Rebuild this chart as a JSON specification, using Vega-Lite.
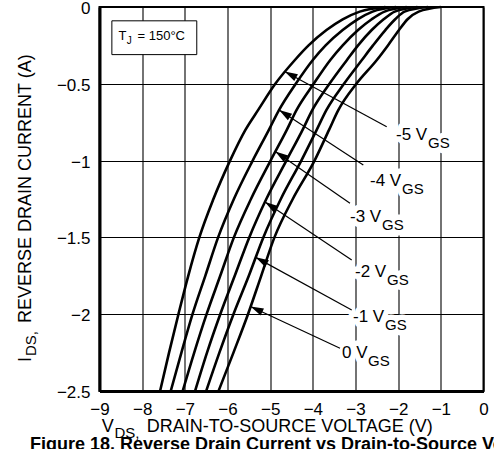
{
  "$schema": "https://vega.github.io/schema/vega-lite/v6.json",
  "width": 384,
  "height": 384,
  "autosize": {"type": "none"},
  "padding": {"left": 99.5, "top": 7, "right": 10.5, "bottom": 58},
  "background": "white",
  "config": {
    "font": "Liberation Sans",
    "view": {"stroke": "black", "strokeWidth": 2},
    "axis": {
      "grid": true, "gridColor": "black", "gridWidth": 1.1, "gridOpacity": 1,
      "domain": true, "domainColor": "black", "domainWidth": 3,
      "ticks": false, "tickSize": 0,
      "labelFont": "Liberation Sans", "labelFontSize": 17, "labelColor": "black",
      "labelFlush": false, "labelOverlap": false, "format": "~g"
    }
  },
  "datasets": {
    "curves": [
      {"g": "-5", "i": -2.5, "v": -7.58}, {"g": "-5", "i": -2.25, "v": -7.37}, {"g": "-5", "i": -2.0, "v": -7.15}, {"g": "-5", "i": -1.75, "v": -6.92},
      {"g": "-5", "i": -1.5, "v": -6.66}, {"g": "-5", "i": -1.25, "v": -6.33}, {"g": "-5", "i": -1.0, "v": -5.94}, {"g": "-5", "i": -0.8, "v": -5.58},
      {"g": "-5", "i": -0.67, "v": -5.28}, {"g": "-5", "i": -0.5, "v": -4.88}, {"g": "-5", "i": -0.345, "v": -4.42}, {"g": "-5", "i": -0.25, "v": -4.10},
      {"g": "-5", "i": -0.15, "v": -3.68}, {"g": "-5", "i": -0.08, "v": -3.30}, {"g": "-5", "i": -0.03, "v": -2.90}, {"g": "-5", "i": 0, "v": -2.30},

      {"g": "-4", "i": -2.5, "v": -7.33}, {"g": "-4", "i": -2.25, "v": -7.08}, {"g": "-4", "i": -2.0, "v": -6.82}, {"g": "-4", "i": -1.75, "v": -6.52},
      {"g": "-4", "i": -1.5, "v": -6.22}, {"g": "-4", "i": -1.25, "v": -5.85}, {"g": "-4", "i": -1.0, "v": -5.41}, {"g": "-4", "i": -0.8, "v": -5.03},
      {"g": "-4", "i": -0.67, "v": -4.79}, {"g": "-4", "i": -0.5, "v": -4.40}, {"g": "-4", "i": -0.345, "v": -4.00}, {"g": "-4", "i": -0.25, "v": -3.70},
      {"g": "-4", "i": -0.15, "v": -3.30}, {"g": "-4", "i": -0.08, "v": -2.95}, {"g": "-4", "i": -0.03, "v": -2.60}, {"g": "-4", "i": 0, "v": -2.05},

      {"g": "-3", "i": -2.5, "v": -7.05}, {"g": "-3", "i": -2.25, "v": -6.78}, {"g": "-3", "i": -2.0, "v": -6.49}, {"g": "-3", "i": -1.75, "v": -6.17},
      {"g": "-3", "i": -1.5, "v": -5.85}, {"g": "-3", "i": -1.25, "v": -5.45}, {"g": "-3", "i": -1.0, "v": -4.99}, {"g": "-3", "i": -0.8, "v": -4.61},
      {"g": "-3", "i": -0.67, "v": -4.38}, {"g": "-3", "i": -0.5, "v": -3.98}, {"g": "-3", "i": -0.345, "v": -3.59}, {"g": "-3", "i": -0.25, "v": -3.30},
      {"g": "-3", "i": -0.15, "v": -2.94}, {"g": "-3", "i": -0.08, "v": -2.62}, {"g": "-3", "i": -0.03, "v": -2.32}, {"g": "-3", "i": 0, "v": -1.80},

      {"g": "-2", "i": -2.5, "v": -6.76}, {"g": "-2", "i": -2.25, "v": -6.48}, {"g": "-2", "i": -2.0, "v": -6.17}, {"g": "-2", "i": -1.75, "v": -5.83},
      {"g": "-2", "i": -1.5, "v": -5.49}, {"g": "-2", "i": -1.25, "v": -5.09}, {"g": "-2", "i": -1.0, "v": -4.62}, {"g": "-2", "i": -0.8, "v": -4.24},
      {"g": "-2", "i": -0.67, "v": -4.01}, {"g": "-2", "i": -0.5, "v": -3.61}, {"g": "-2", "i": -0.345, "v": -3.20}, {"g": "-2", "i": -0.25, "v": -2.94},
      {"g": "-2", "i": -0.15, "v": -2.62}, {"g": "-2", "i": -0.08, "v": -2.34}, {"g": "-2", "i": -0.03, "v": -2.08}, {"g": "-2", "i": 0, "v": -1.55},

      {"g": "-1", "i": -2.5, "v": -6.50}, {"g": "-1", "i": -2.25, "v": -6.19}, {"g": "-1", "i": -2.0, "v": -5.86}, {"g": "-1", "i": -1.75, "v": -5.50},
      {"g": "-1", "i": -1.5, "v": -5.16}, {"g": "-1", "i": -1.25, "v": -4.75}, {"g": "-1", "i": -1.0, "v": -4.27}, {"g": "-1", "i": -0.8, "v": -3.91},
      {"g": "-1", "i": -0.67, "v": -3.68}, {"g": "-1", "i": -0.5, "v": -3.27}, {"g": "-1", "i": -0.345, "v": -2.85}, {"g": "-1", "i": -0.25, "v": -2.59},
      {"g": "-1", "i": -0.15, "v": -2.30}, {"g": "-1", "i": -0.08, "v": -2.07}, {"g": "-1", "i": -0.03, "v": -1.85}, {"g": "-1", "i": 0, "v": -1.30},

      {"g": "0", "i": -2.5, "v": -6.21}, {"g": "0", "i": -2.25, "v": -5.86}, {"g": "0", "i": -2.0, "v": -5.52}, {"g": "0", "i": -1.75, "v": -5.21},
      {"g": "0", "i": -1.5, "v": -4.90}, {"g": "0", "i": -1.25, "v": -4.47}, {"g": "0", "i": -1.0, "v": -3.96}, {"g": "0", "i": -0.8, "v": -3.62},
      {"g": "0", "i": -0.67, "v": -3.40}, {"g": "0", "i": -0.5, "v": -2.98}, {"g": "0", "i": -0.345, "v": -2.50}, {"g": "0", "i": -0.25, "v": -2.24},
      {"g": "0", "i": -0.15, "v": -1.98}, {"g": "0", "i": -0.08, "v": -1.78}, {"g": "0", "i": -0.03, "v": -1.52}, {"g": "0", "i": 0, "v": -1.00}
    ],
    "tags": [
      {"g": "-5", "t": "-5 V", "tx": -2.051, "ty": -0.866, "sx": -1.301, "sy": -0.918, "x0": -2.269, "y0": -0.779, "x1": -4.66, "y1": -0.42},
      {"g": "-4", "t": "-4 V", "tx": -2.660, "ty": -1.165, "sx": -1.910, "sy": -1.217, "x0": -2.817, "y0": -1.029, "x1": -4.79, "y1": -0.67},
      {"g": "-3", "t": "-3 V", "tx": -3.129, "ty": -1.400, "sx": -2.379, "sy": -1.452, "x0": -3.129, "y0": -1.278, "x1": -4.88, "y1": -0.94},
      {"g": "-2", "t": "-2 V", "tx": -3.012, "ty": -1.758, "sx": -2.262, "sy": -1.810, "x0": -3.089, "y0": -1.647, "x1": -5.12, "y1": -1.27},
      {"g": "-1", "t": "-1 V", "tx": -3.059, "ty": -2.051, "sx": -2.309, "sy": -2.103, "x0": -3.089, "y0": -1.973, "x1": -5.34, "y1": -1.63},
      {"g": "0", "t": "0 V", "tx": -3.317, "ty": -2.285, "sx": -2.707, "sy": -2.337, "x0": -3.363, "y0": -2.222, "x1": -5.46, "y1": -1.95}
    ],
    "box": [
      {"x": -8.71, "x2": -6.72, "y": -0.09, "y2": -0.31}
    ],
    "texts": [
      {"role": "tj", "t": "T", "x": -8.555, "y": -0.2116},
      {"role": "tj", "t": "= 150°C", "x": -8.109, "y": -0.2116},
      {"role": "tjsub", "t": "J", "x": -8.36, "y": -0.243},
      {"role": "xmain", "t": "V", "x": -8.948, "y": -2.770},
      {"role": "xmain", "t": "DRAIN-TO-SOURCE VOLTAGE (V)", "x": -7.894, "y": -2.770},
      {"role": "xsub", "t": "DS,", "x": -8.648, "y": -2.806},
      {"role": "ymain", "t": "I", "x": -10.605, "y": -2.311},
      {"role": "ymain", "t": "REVERSE DRAIN CURRENT (A)", "x": -10.605, "y": -2.057},
      {"role": "ysub", "t": "DS,", "x": -10.488, "y": -2.272},
      {"role": "fig", "t": "Figure 18. Reverse Drain Current vs Drain-to-Source Voltage", "x": -10.63, "y": -2.884}
    ]
  },
  "layer": [
    {
      "data": {"name": "curves"},
      "mark": {"type": "line", "color": "black", "strokeWidth": 2.6, "interpolate": "monotone"},
      "encoding": {
        "x": {"field": "v", "type": "quantitative", "scale": {"domain": [-9, 0], "nice": false, "zero": false},
              "axis": {"values": [-9, -8, -7, -6, -5, -4, -3, -2, -1, 0], "labelPadding": 10, "title": null}},
        "y": {"field": "i", "type": "quantitative", "scale": {"domain": [-2.5, 0], "nice": false, "zero": false},
              "axis": {"values": [-2.5, -2, -1.5, -1, -0.5, 0], "labelPadding": 9.5, "labelOffset": 1.5, "title": null}},
        "detail": {"field": "g"},
        "order": {"field": "i", "type": "quantitative"}
      }
    },
    {
      "data": {"name": "box"},
      "mark": {"type": "rect", "fill": "white", "stroke": "black", "strokeWidth": 1},
      "encoding": {
        "x": {"field": "x", "type": "quantitative"}, "x2": {"field": "x2"},
        "y": {"field": "y", "type": "quantitative"}, "y2": {"field": "y2"}
      }
    },
    {
      "data": {"name": "tags"},
      "mark": {"type": "text", "fontSize": 17, "align": "left", "baseline": "alphabetic", "fill": "white", "stroke": "white", "strokeWidth": 11, "strokeJoin": "round"},
      "encoding": {"x": {"field": "tx", "type": "quantitative"}, "y": {"field": "ty", "type": "quantitative"}, "text": {"field": "t"}}
    },
    {
      "data": {"name": "tags"},
      "mark": {"type": "text", "fontSize": 15, "align": "left", "baseline": "alphabetic", "fill": "white", "stroke": "white", "strokeWidth": 11, "strokeJoin": "round", "text": "GS"},
      "encoding": {"x": {"field": "sx", "type": "quantitative"}, "y": {"field": "sy", "type": "quantitative"}}
    },
    {
      "data": {"name": "tags"},
      "mark": {"type": "rule", "color": "black", "strokeWidth": 1.2},
      "encoding": {
        "x": {"field": "x0", "type": "quantitative"}, "y": {"field": "y0", "type": "quantitative"},
        "x2": {"field": "x1"}, "y2": {"field": "y1"}
      }
    },
    {
      "data": {"name": "tags"},
      "transform": [
        {"calculate": "atan2(-(datum.y0 - datum.y1) * 153.6, (datum.x0 - datum.x1) * 42.667) * 180 / PI", "as": "heading"}
      ],
      "mark": {"type": "point", "shape": "M0,0L2,-0.6L2,0.6Z", "filled": true, "fill": "black", "opacity": 1, "strokeWidth": 0, "size": 169},
      "encoding": {
        "x": {"field": "x1", "type": "quantitative"}, "y": {"field": "y1", "type": "quantitative"},
        "angle": {"field": "heading", "type": "quantitative", "scale": null}
      }
    },
    {
      "data": {"name": "tags"},
      "mark": {"type": "text", "fontSize": 17, "align": "left", "baseline": "alphabetic", "color": "black"},
      "encoding": {"x": {"field": "tx", "type": "quantitative"}, "y": {"field": "ty", "type": "quantitative"}, "text": {"field": "t"}}
    },
    {
      "data": {"name": "tags"},
      "mark": {"type": "text", "fontSize": 15, "align": "left", "baseline": "alphabetic", "color": "black", "text": "GS"},
      "encoding": {"x": {"field": "sx", "type": "quantitative"}, "y": {"field": "sy", "type": "quantitative"}}
    },
    {
      "data": {"name": "texts"},
      "transform": [{"filter": "datum.role === 'tj'"}],
      "mark": {"type": "text", "fontSize": 13, "align": "left", "baseline": "alphabetic", "color": "black"},
      "encoding": {"x": {"field": "x", "type": "quantitative"}, "y": {"field": "y", "type": "quantitative"}, "text": {"field": "t"}}
    },
    {
      "data": {"name": "texts"},
      "transform": [{"filter": "datum.role === 'tjsub'"}],
      "mark": {"type": "text", "fontSize": 10, "align": "left", "baseline": "alphabetic", "color": "black"},
      "encoding": {"x": {"field": "x", "type": "quantitative"}, "y": {"field": "y", "type": "quantitative"}, "text": {"field": "t"}}
    },
    {
      "data": {"name": "texts"},
      "transform": [{"filter": "datum.role === 'xmain'"}],
      "mark": {"type": "text", "fontSize": 18, "align": "left", "baseline": "alphabetic", "color": "black"},
      "encoding": {"x": {"field": "x", "type": "quantitative"}, "y": {"field": "y", "type": "quantitative"}, "text": {"field": "t"}}
    },
    {
      "data": {"name": "texts"},
      "transform": [{"filter": "datum.role === 'xsub'"}],
      "mark": {"type": "text", "fontSize": 15, "align": "left", "baseline": "alphabetic", "color": "black"},
      "encoding": {"x": {"field": "x", "type": "quantitative"}, "y": {"field": "y", "type": "quantitative"}, "text": {"field": "t"}}
    },
    {
      "data": {"name": "texts"},
      "transform": [{"filter": "datum.role === 'ymain'"}],
      "mark": {"type": "text", "fontSize": 18, "align": "left", "baseline": "alphabetic", "angle": 270, "color": "black"},
      "encoding": {"x": {"field": "x", "type": "quantitative"}, "y": {"field": "y", "type": "quantitative"}, "text": {"field": "t"}}
    },
    {
      "data": {"name": "texts"},
      "transform": [{"filter": "datum.role === 'ysub'"}],
      "mark": {"type": "text", "fontSize": 15, "align": "left", "baseline": "alphabetic", "angle": 270, "color": "black"},
      "encoding": {"x": {"field": "x", "type": "quantitative"}, "y": {"field": "y", "type": "quantitative"}, "text": {"field": "t"}}
    },
    {
      "data": {"name": "texts"},
      "transform": [{"filter": "datum.role === 'fig'"}],
      "mark": {"type": "text", "fontSize": 18, "fontWeight": "bold", "align": "left", "baseline": "alphabetic", "color": "black"},
      "encoding": {"x": {"field": "x", "type": "quantitative"}, "y": {"field": "y", "type": "quantitative"}, "text": {"field": "t"}}
    }
  ]
}
